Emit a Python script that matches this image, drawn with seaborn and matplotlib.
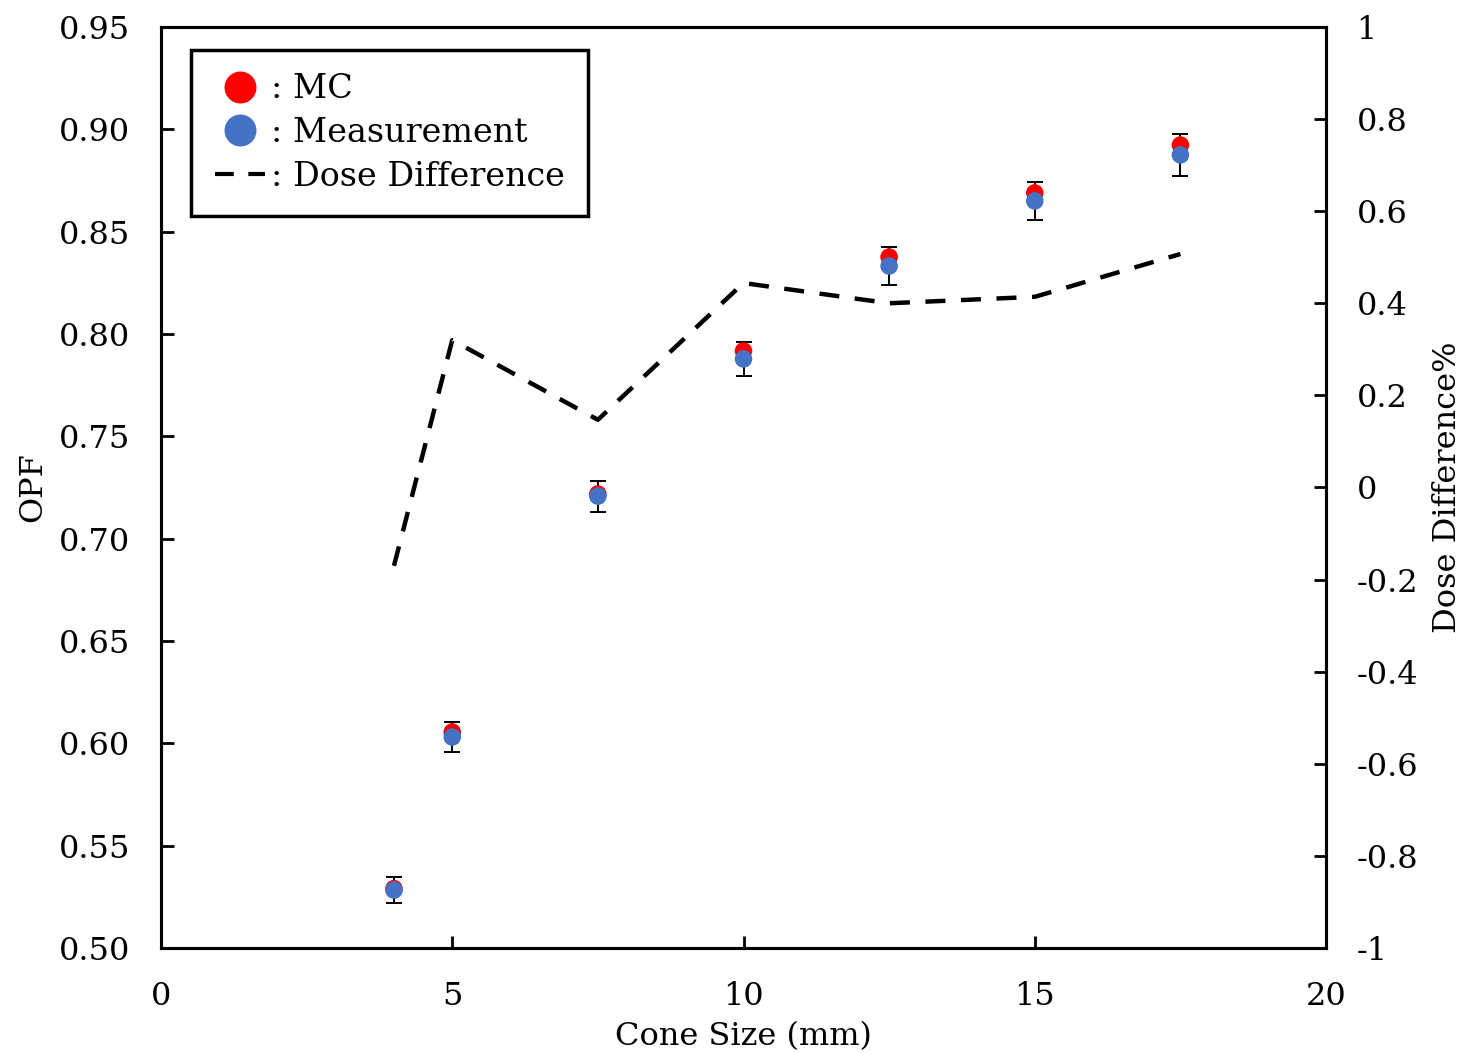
import numpy as np
import pandas as pd
import matplotlib
matplotlib.use("Agg")
import matplotlib.pyplot as plt
from matplotlib.lines import Line2D
import seaborn as sns

# Output factor data vs cone size
cone_size = [4, 5, 7.5, 10, 12.5, 15, 17.5]
opf_mc = [0.529, 0.6055, 0.7218, 0.7917, 0.8376, 0.8689, 0.8923]
opf_meas = [0.5283, 0.6031, 0.7208, 0.7878, 0.8332, 0.8650, 0.8875]
meas_err = [0.0063, 0.0071, 0.0076, 0.0083, 0.0093, 0.0093, 0.0103]
dose_diff = [-0.17, 0.32, 0.147, 0.444, 0.40, 0.414, 0.507]

left_ticks = [0.50, 0.55, 0.60, 0.65, 0.70, 0.75, 0.80, 0.85, 0.90, 0.95]
right_ticks = [-1, -0.8, -0.6, -0.4, -0.2, 0, 0.2, 0.4, 0.6, 0.8, 1]
x_ticks = [0, 5, 10, 15, 20]

RED = "#FF0000"
BLUE = "#4472C4"
FS = 23
DASH = (0, (4.5, 3.5))

sns.set_theme(style="white")
plt.rcParams.update({
    "font.family": ["DejaVu Serif"],
    "font.size": FS,
    "xtick.labelsize": FS,
    "ytick.labelsize": FS,
    "axes.labelsize": FS,
    "legend.fontsize": 24,
    "text.color": "black",
    "axes.labelcolor": "black",
    "xtick.color": "black",
    "ytick.color": "black",
})

df = pd.DataFrame({"cone": cone_size, "mc": opf_mc, "meas": opf_meas,
                   "err": meas_err, "diff": dose_diff})

fig = plt.figure(figsize=(14.62, 10.53), dpi=100)
ax = fig.add_axes([0.1101, 0.0997, 0.7969, 0.8747])

sns.scatterplot(data=df, x="cone", y="mc", ax=ax, color=RED, s=160,
                edgecolor="none", zorder=3)
ax.errorbar(df["cone"], df["meas"], yerr=df["err"], fmt="none",
            ecolor="black", elinewidth=1.4, capsize=6, capthick=1.4, zorder=2)
sns.scatterplot(data=df, x="cone", y="meas", ax=ax, color=BLUE, s=160,
                edgecolor="none", zorder=4)

ax.set_xlim(0, 20)
ax.set_ylim(0.50, 0.95)
ax.set_xticks(x_ticks)
ax.set_yticks(left_ticks)
ax.set_yticklabels([f"{v:.2f}" for v in left_ticks])
ax.set_xlabel("Cone Size (mm)", labelpad=6)
ax.set_ylabel("OPF", labelpad=8)
ax.tick_params(axis="both", direction="in", length=9, width=2,
               bottom=True, left=True)
ax.tick_params(axis="y", pad=22)
ax.tick_params(axis="x", pad=24)

ax2 = ax.twinx()
sns.lineplot(data=df, x="cone", y="diff", ax=ax2, color="black",
             linewidth=3.2, linestyle=DASH, zorder=1)
ax2.set_ylim(-1, 1)
ax2.set_yticks(right_ticks)
ax2.set_yticklabels([f"{v:g}" for v in right_ticks])
ax2.set_ylabel("Dose Difference%", labelpad=10)
ax2.tick_params(axis="y", direction="in", length=9, width=2, pad=22, right=True)

for a in (ax, ax2):
    for s in a.spines.values():
        s.set_linewidth(2.2)
        s.set_color("black")

handles = [
    Line2D([], [], marker="o", linestyle="none", color=RED, markersize=22),
    Line2D([], [], marker="o", linestyle="none", color=BLUE, markersize=22),
    Line2D([], [], color="black", linewidth=3, linestyle=DASH),
]
labels = [": MC", ": Measurement", ": Dose Difference"]
leg = ax2.legend(handles, labels, loc="upper left", bbox_to_anchor=(0.026, 0.975),
                 frameon=True, fancybox=False, framealpha=1, edgecolor="black",
                 handlelength=1.5, handletextpad=0.18, labelspacing=0.35,
                 borderpad=0.7, borderaxespad=0)
leg.get_frame().set_linewidth(2.5)
for t in leg.get_texts():
    t.set_color("black")

fig.savefig("out.png", dpi=100)
